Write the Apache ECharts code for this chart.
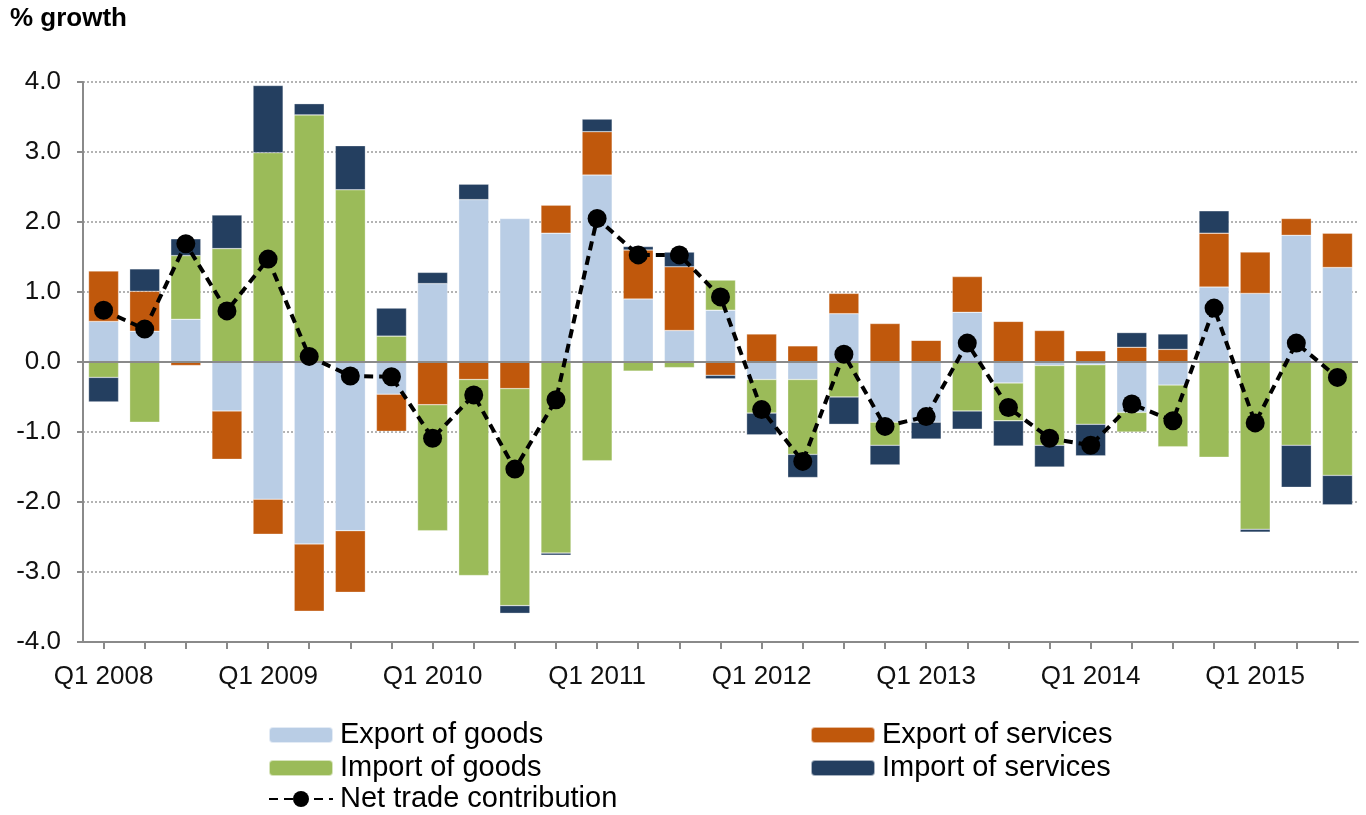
<!DOCTYPE html>
<html>
<head>
<meta charset="utf-8">
<script src="https://cdn.jsdelivr.net/npm/echarts@6/dist/echarts.min.js"></script>
<style>
html,body{margin:0;padding:0;background:#fff;}
#chart{width:1366px;height:815px;}
</style>
</head>
<body>
<div id="chart"></div>
<script>
const categories = [
  'Q1 2008','Q2 2008','Q3 2008','Q4 2008',
  'Q1 2009','Q2 2009','Q3 2009','Q4 2009',
  'Q1 2010','Q2 2010','Q3 2010','Q4 2010',
  'Q1 2011','Q2 2011','Q3 2011','Q4 2011',
  'Q1 2012','Q2 2012','Q3 2012','Q4 2012',
  'Q1 2013','Q2 2013','Q3 2013','Q4 2013',
  'Q1 2014','Q2 2014','Q3 2014','Q4 2014',
  'Q1 2015','Q2 2015','Q3 2015'
];
const exportGoods = [0.58, 0.44, 0.61, -0.70, -1.96, -2.60, -2.41, -0.46, 1.12, 2.32, 2.05, 1.84, 2.67, 0.90, 0.45, 0.74, -0.25, -0.25, 0.69, -0.86, -0.86, 0.71, -0.30, -0.05, -0.04, -0.72, -0.33, 1.07, 0.98, 1.81, 1.35];
const exportServices = [0.72, 0.57, -0.05, -0.69, -0.50, -0.96, -0.88, -0.53, -0.61, -0.25, -0.38, 0.40, 0.62, 0.70, 0.91, -0.19, 0.40, 0.23, 0.29, 0.55, 0.31, 0.51, 0.58, 0.45, 0.16, 0.21, 0.18, 0.77, 0.59, 0.24, 0.49];
const importGoods = [-0.22, -0.86, 0.91, 1.62, 2.99, 3.53, 2.46, 0.37, -1.80, -2.80, -3.10, -2.73, -1.41, -0.13, -0.08, 0.43, -0.48, -1.07, -0.50, -0.33, 0, -0.70, -0.54, -1.14, -0.85, -0.28, -0.88, -1.36, -2.39, -1.19, -1.62];
const importServices = [-0.35, 0.32, 0.24, 0.48, 0.96, 0.16, 0.63, 0.40, 0.16, 0.22, -0.11, -0.03, 0.18, 0.05, 0.21, -0.05, -0.31, -0.33, -0.39, -0.28, -0.24, -0.26, -0.36, -0.31, -0.45, 0.21, 0.22, 0.32, -0.04, -0.60, -0.42];
const netTrade = [0.74, 0.47, 1.69, 0.73, 1.47, 0.08, -0.20, -0.21, -1.09, -0.47, -1.53, -0.54, 2.05, 1.53, 1.53, 0.93, -0.68, -1.42, 0.11, -0.92, -0.78, 0.27, -0.65, -1.09, -1.19, -0.60, -0.84, 0.77, -0.87, 0.27, -0.22];
const yTicks = {min: -4, max: 4, interval: 1};

const FONT = '"Liberation Sans", Arial, sans-serif';
const chart = echarts.init(document.getElementById('chart'), null, {renderer: 'canvas'});

function bar(name, data, color) {
  return {
    name: name, type: 'bar', stack: 'trade', data: data,
    barCategoryGap: '27%',
    itemStyle: {color: color, borderColor: 'rgba(255,255,255,0.6)', borderWidth: 0.5},
    emphasis: {disabled: true}
  };
}

function legendRow(name, left, top, ih) {
  return {
    orient: 'horizontal', left: left, top: top, padding: 0,
    itemWidth: 64, itemHeight: ih || 16, itemGap: 0,
    data: [name],
    textStyle: {fontSize: 29, color: '#000', fontFamily: FONT, lineHeight: 30, padding: [0, 0, 0, 2]},
    selectedMode: false
  };
}

const option = {
  animation: false,
  backgroundColor: '#ffffff',
  textStyle: {fontFamily: FONT},
  graphic: [{
    type: 'text', left: 10, top: 6,
    style: {text: '% growth', font: 'bold 26px ' + FONT, fill: '#000'}
  }],
  grid: {left: 83, right: 8, top: 82, bottom: 173, containLabel: false},
  legend: [
    legendRow('Export of goods', 268, 720),
    legendRow('Import of goods', 268, 753),
    legendRow('Net trade contribution', 268, 784, 20),
    legendRow('Export of services', 810, 720),
    legendRow('Import of services', 810, 753)
  ],
  xAxis: {
    type: 'category', data: categories, boundaryGap: true,
    axisLine: {onZero: false, lineStyle: {color: '#8a8a8a', width: 2}},
    axisTick: {show: true, interval: 0, alignWithLabel: true, length: 7, lineStyle: {color: '#8a8a8a', width: 2}},
    axisLabel: {interval: 3, fontSize: 26, color: '#111', margin: 22, fontFamily: FONT},
    splitLine: {show: false}
  },
  yAxis: {
    type: 'value', min: yTicks.min, max: yTicks.max, interval: yTicks.interval,
    axisLine: {show: true, lineStyle: {color: '#8a8a8a', width: 2}},
    axisTick: {show: true, length: 6, lineStyle: {color: '#8a8a8a', width: 2}},
    axisLabel: {fontSize: 26, color: '#111', margin: 22, fontFamily: FONT,
      formatter: function (v) { return v.toFixed(1); }},
    splitLine: {show: true, lineStyle: {color: '#9a9a9a', width: 1.5, type: [2, 2]}}
  },
  series: [
    bar('Export of goods', exportGoods, '#B9CDE5'),
    bar('Export of services', exportServices, '#C0580C'),
    bar('Import of goods', importGoods, '#9BBB59'),
    Object.assign(bar('Import of services', importServices, '#243F60'), {
      markLine: {
        silent: true, symbol: 'none', label: {show: false},
        lineStyle: {color: '#8a8a8a', width: 2, type: 'solid'},
        data: [{yAxis: 0}]
      }
    }),
    {
      name: 'Net trade contribution', type: 'line', data: netTrade, z: 10,
      symbol: 'circle', symbolSize: 19,
      itemStyle: {color: '#000'},
      lineStyle: {color: '#000', width: 4, type: [9, 6]},
      emphasis: {disabled: true}
    }
  ]
};
chart.setOption(option);
</script>
</body>
</html>
